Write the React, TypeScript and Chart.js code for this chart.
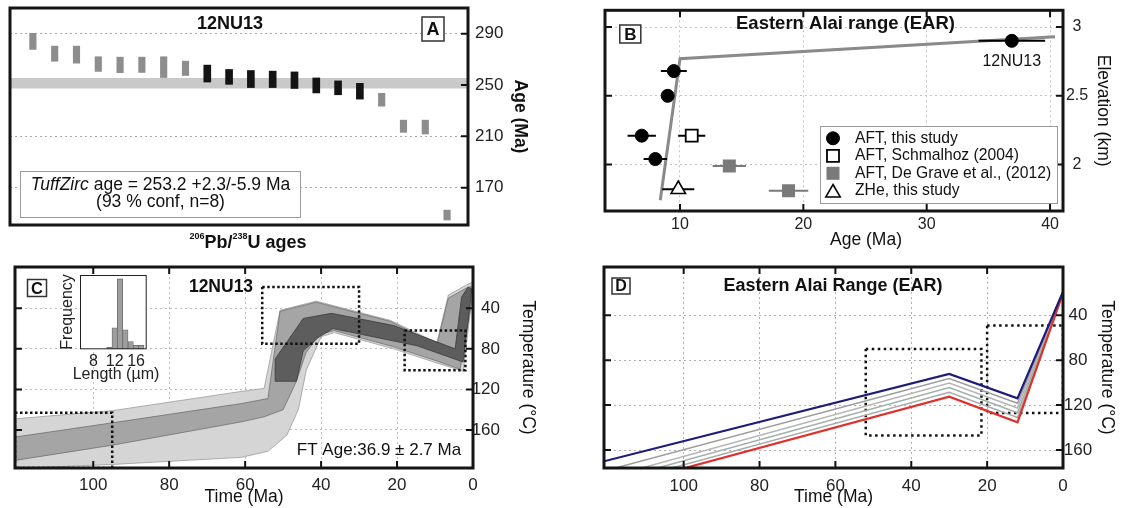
import React, { useEffect, useRef } from "react";
import { Chart, registerables } from "chart.js";

Chart.register(...registerables);

const FONT = "'Liberation Sans', Arial, Helvetica, sans-serif";
Chart.defaults.font.family = FONT;
Chart.defaults.color = "#222";

/* ================= Panel A : 206Pb/238U single-grain zircon ages ================= */
const sampleName = "12NU13";
const grainIndex = [1, 2, 3, 4, 5, 6, 7, 8, 9, 10, 11, 12, 13, 14, 15, 16, 17, 18, 19, 20];
const grainAgeMin = [277.7, 268.5, 267.0, 260.6, 259.6, 259.8, 255.8, 257.4, 252.3, 250.5, 248.0, 248.0, 247.3, 243.8, 242.4, 239.0, 233.5, 213.1, 211.8, 144.8];
const grainAgeMax = [290.3, 280.3, 280.3, 272.0, 271.7, 271.7, 272.0, 268.6, 265.5, 262.1, 261.3, 260.8, 260.2, 255.5, 253.2, 251.3, 243.5, 222.6, 222.6, 152.5];
const grainUsed = [0, 0, 0, 0, 0, 0, 0, 0, 1, 1, 1, 1, 1, 1, 1, 1, 0, 0, 0, 0];
const tuffZircAge = 253.2;
const tuffZircPlus = 2.3;
const tuffZircMinus = 5.9;
const tuffZircConf = 93;
const grainAxisRange = [-0.05, 20.96];
const ageAxisRangeA = [140.9, 310];
const ageTicksA = [170, 210, 250, 290];

/* ================= Panel B : age-elevation ================= */
const aftAge = [9.5, 9.0, 6.9, 8.0, 36.9];
const aftElev = [2.68, 2.5, 2.21, 2.04, 2.9];
const aftErr = [1.05, 0.45, 1.15, 0.95, 2.7];
const schAge = [10.95];
const schElev = [2.21];
const schErr = [1.1];
const dgAge = [14.0, 18.8];
const dgElev = [1.99, 1.81];
const dgErr = [1.35, 1.6];
const zheAge = [9.86];
const zheElev = [1.82];
const zheErr = [1.3];
const trendAge = [8.4, 10.0, 40.4];
const trendElev = [1.74, 2.77, 2.93];
const ageRangeB = [3.92, 41.05];
const elevRangeB = [1.662, 3.122];
const ageTicksB = [10, 20, 30, 40];
const elevTicksB = [2, 2.5, 3];

/* ================= Panel C : HeFTy model of 12NU13 ================= */
const timeTicks = [0, 20, 40, 60, 80, 100];
const tempTicks = [40, 80, 120, 160];
const timeRangeC = [0, 120.6];
const tempRangeC = [-0.7, 197.5];
const accTime = [120.6, 95, 61, 55, 50.8, 41.3, 21.7, 9.5, 6.5, 1.7, 0, 0, 2.6, 9.5, 20.9, 36.5, 40, 43.9, 46, 49, 54, 61, 95, 120.6];
const accTemp = [149, 141, 122, 119, 42, 33, 52, 74, 27, 17, 14, 22, 102, 94, 80, 64, 68, 101, 140, 165, 181, 187, 194, 198];
const goodTime = [120.6, 95, 61, 54, 50.8, 41.3, 21.7, 9.5, 6.5, 1.7, 0, 0, 3.4, 9.5, 20.9, 36.5, 40.5, 44, 46.5, 50, 55, 61, 95, 120.6];
const goodTemp = [167, 153, 134, 129, 43, 34, 53, 76, 30, 20, 18, 26, 100, 92, 78, 62, 66, 84, 112, 140, 147, 152, 175, 190];
const bestTime = [52.1, 52.1, 44.7, 37.3, 20.9, 4.7, 3, 1.3, 0.3, 2.6, 14.7, 36.9, 40.8, 44.7, 46.5];
const bestTemp = [112, 90, 50, 45, 57, 80, 29, 19, 21, 93, 77, 60, 69, 82, 112];
const cBoxTime = [[120.6, 95], [55.5, 30], [18, 2]];
const cBoxTemp = [[143, 197.5], [19, 75], [62, 101]];
const ftAge = 36.9;
const ftAgeErr = 2.7;
const lengthBin = [11, 12, 13, 14, 15, 16, 17];
const lengthCount = [1, 11, 36, 10, 4, 2, 2];
const lengthTicks = [8, 12, 16];
const lengthRange = [5.5, 18];
const countRange = [0, 38];

/* ================= Panel D : EAR forward model ================= */
const timeRangeD = [0, 121];
const tempRangeD = [-3, 176];
const dTime = [121, 30, 12, 0];
const dTop = [170, 92.3, 114, 19];
const dMid1 = [178.7, 96.3, 118.3, 19.3];
const dMid2 = [185.3, 100.4, 122.5, 19.7];
const dMid3 = [189.1, 104.4, 126.8, 20];
const dMid4 = [192.6, 108.5, 131, 20.2];
const dBottom = [195.5, 112.5, 135.3, 20.4];
const dBoxTime = [[52, 21.5], [20, 0]];
const dBoxTemp = [[70, 147], [49, 127]];

/* ================= helpers ================= */
type P = { x: number; y: number };
const pts = (xs: number[], ys: number[]): P[] => xs.map((x, i) => ({ x, y: ys[i] }));
const closed = (xs: number[], ys: number[]) => {
  const p = pts(xs, ys);
  return [...p, p[0]];
};
const rect = (t: number[], v: number[]) => [
  { x: t[0], y: v[0] }, { x: t[1], y: v[0] }, { x: t[1], y: v[1] }, { x: t[0], y: v[1] }, { x: t[0], y: v[0] },
];
const setTicks = (vals: number[]) => (s: any) => {
  s.ticks = vals.map((value) => ({ value }));
};
const fitW = (w: number) => (s: any) => {
  s.width = w;
  s.paddingTop = 0; s.paddingBottom = 0; s.paddingLeft = 0; s.paddingRight = 0;
};
const fitH = (h: number) => (s: any) => {
  s.height = h;
  s.paddingTop = 0; s.paddingBottom = 0; s.paddingLeft = 0; s.paddingRight = 0;
};
const label = (v: any) => String(v);

const baseOpts = (padding: any) => ({
  responsive: false,
  maintainAspectRatio: false,
  animation: false,
  devicePixelRatio: 1,
  events: [],
  layout: { padding },
  plugins: { legend: { display: false }, tooltip: { enabled: false } },
});

function txt(ctx: any, s: string, x: number, y: number, font: string, align: CanvasTextAlign = "center", color = "#111", rot = 0) {
  ctx.save();
  ctx.font = font;
  ctx.fillStyle = color;
  ctx.textAlign = align;
  ctx.textBaseline = "middle";
  ctx.translate(x, y);
  if (rot) ctx.rotate(rot);
  ctx.fillText(s, 0, 0);
  ctx.restore();
}

function rich(ctx: any, parts: [string, string, number][], cx: number, y: number, color = "#111") {
  ctx.save();
  ctx.textBaseline = "middle";
  ctx.textAlign = "left";
  ctx.fillStyle = color;
  let total = 0;
  for (const [s, f] of parts) { ctx.font = f; total += ctx.measureText(s).width; }
  let x = cx - total / 2;
  for (const [s, f, dy] of parts) { ctx.font = f; ctx.fillText(s, x, y + dy); x += ctx.measureText(s).width; }
  ctx.restore();
}

function boxedLetter(ctx: any, letter: string, cx: number, cy: number, w: number, h: number, size: number) {
  ctx.save();
  ctx.fillStyle = "#fff";
  ctx.fillRect(cx - w / 2, cy - h / 2, w, h);
  ctx.strokeStyle = "#333";
  ctx.lineWidth = 1.5;
  ctx.strokeRect(cx - w / 2, cy - h / 2, w, h);
  ctx.restore();
  txt(ctx, letter, cx, cy + 1, `bold ${size}px ${FONT}`);
}

function marker(ctx: any, style: string, x: number, y: number, r: number, fill: string, stroke: string, lw: number) {
  ctx.save();
  ctx.fillStyle = fill;
  ctx.strokeStyle = stroke;
  ctx.lineWidth = lw;
  ctx.beginPath();
  if (style === "circle") ctx.arc(x, y, r, 0, Math.PI * 2);
  else if (style === "rect") { const s = r * Math.SQRT1_2; ctx.rect(x - s, y - s, 2 * s, 2 * s); }
  else { ctx.moveTo(x, y - r); ctx.lineTo(x + 0.866 * r, y + 0.5 * r); ctx.lineTo(x - 0.866 * r, y + 0.5 * r); ctx.closePath(); }
  ctx.fill();
  if (lw > 0) ctx.stroke();
  ctx.restore();
}

function deco(sides: any, draw?: (ctx: any, chart: any) => void) {
  return {
    id: "deco",
    afterDraw(chart: any) {
      const { ctx, chartArea: a, scales } = chart;
      const L = 7;
      ctx.save();
      ctx.strokeStyle = "#111";
      ctx.lineWidth = 2;
      ctx.beginPath();
      const xs = scales.x, ys = scales.y;
      if (xs && (sides.top || sides.bottom)) {
        for (const t of xs.ticks) {
          const p = xs.getPixelForValue(t.value);
          if (sides.top) { ctx.moveTo(p, a.top); ctx.lineTo(p, a.top + L); }
          if (sides.bottom) { ctx.moveTo(p, a.bottom); ctx.lineTo(p, a.bottom - L); }
        }
      }
      if (ys && (sides.left || sides.right)) {
        for (const t of ys.ticks) {
          const p = ys.getPixelForValue(t.value);
          if (sides.left) { ctx.moveTo(a.left, p); ctx.lineTo(a.left + L, p); }
          if (sides.right) { ctx.moveTo(a.right, p); ctx.lineTo(a.right - L, p); }
        }
      }
      ctx.stroke();
      ctx.strokeStyle = "#151515";
      ctx.lineWidth = 3;
      ctx.strokeRect(a.left, a.top, a.right - a.left, a.bottom - a.top);
      ctx.restore();
      if (draw) draw(ctx, chart);
    },
  };
}

const gridStyle = (color = "#b5b5b5") => ({
  grid: { color, lineWidth: 1, drawTicks: false },
  border: { display: false, dash: [2, 3] },
});

/* ================= Panel builders ================= */
function buildA() {
  const ox = 0, oy = 0;
  const bars = (used: number) =>
    grainIndex.map((x, i) => ({ x, y: [grainAgeMin[i], grainAgeMax[i]] })).filter((_, i) => grainUsed[i] === used);
  const bandHi = tuffZircAge + tuffZircPlus;
  const bandLo = tuffZircAge - tuffZircMinus;
  const nUsed = grainUsed.filter((u) => u === 1).length;
  return {
    type: "bar",
    data: {
      datasets: [
        { type: "bar", label: "Grains used in TuffZirc age", data: bars(1), backgroundColor: "#141414", barThickness: 7, grouped: false, order: 1 },
        { type: "bar", label: "Rejected grains", data: bars(0), backgroundColor: "#8d8d8d", barThickness: 6.5, grouped: false, order: 2 },
        {
          type: "line", label: "TuffZirc age (upper)",
          data: [{ x: grainAxisRange[0], y: bandHi }, { x: grainAxisRange[1], y: bandHi }],
          fill: "+1", backgroundColor: "#c9c9c9", borderColor: "rgba(0,0,0,0)", borderWidth: 0, pointRadius: 0, order: 5,
        },
        {
          type: "line", label: "TuffZirc age (lower)",
          data: [{ x: grainAxisRange[0], y: bandLo }, { x: grainAxisRange[1], y: bandLo }],
          fill: false, borderColor: "rgba(0,0,0,0)", borderWidth: 0, pointRadius: 0, order: 6,
        },
      ],
    },
    options: {
      ...baseOpts({ left: 10, top: 8, right: 22, bottom: 27 }),
      scales: {
        x: { type: "linear", display: false, min: grainAxisRange[0], max: grainAxisRange[1], offset: false, grid: { display: false } },
        y: {
          type: "linear", position: "right", min: ageAxisRangeA[0], max: ageAxisRangeA[1], beginAtZero: false,
          afterBuildTicks: setTicks(ageTicksA), afterFit: fitW(70),
          ...gridStyle("#aaaaaa"),
          ticks: { font: { size: 17 }, color: "#222", padding: 7, crossAlign: "near", autoSkip: false, callback: label },
          title: { display: true, text: "Age (Ma)", color: "#111", font: { size: 17.5, weight: "bold" }, padding: { top: 7.5, bottom: 0 } },
        },
      },
    },
    plugins: [
      deco({ right: true }, (ctx: any) => {
        txt(ctx, sampleName, 230 - ox, 24 - oy, `bold 18px ${FONT}`);
        boxedLetter(ctx, "A", 433 - ox, 29 - oy, 22, 24, 18);
        ctx.save();
        ctx.fillStyle = "#fff";
        ctx.fillRect(20 - ox, 171 - oy, 280, 46);
        ctx.strokeStyle = "#9a9a9a";
        ctx.lineWidth = 1;
        ctx.strokeRect(20.5 - ox, 171.5 - oy, 280, 46);
        ctx.restore();
        rich(ctx, [
          ["TuffZirc", `italic 17.5px ${FONT}`, 0],
          [` age = ${tuffZircAge} +${tuffZircPlus}/-${tuffZircMinus} Ma`, `17.5px ${FONT}`, 0],
        ], 160.5 - ox, 185.5 - oy);
        txt(ctx, `(${tuffZircConf} % conf, n=${nUsed})`, 160.5 - ox, 202 - oy, `17.5px ${FONT}`);
        rich(ctx, [
          ["206", `bold 9px ${FONT}`, -6],
          ["Pb/", `bold 18px ${FONT}`, 0],
          ["238", `bold 9px ${FONT}`, -6],
          ["U ages", `bold 18px ${FONT}`, 0],
        ], 248 - ox, 243 - oy);
      }),
    ],
  };
}

function buildB() {
  const ox = 560, oy = 0;
  const errBars = (ages: number[], elevs: number[], errs: number[], color: string, name: string) =>
    ages.map((a, i) => ({
      type: "line", label: `${name} error ${i + 1}`,
      data: [{ x: a - errs[i], y: elevs[i] }, { x: a + errs[i], y: elevs[i] }],
      borderColor: color, borderWidth: 2, pointRadius: 0, fill: false, order: 5,
    }));
  return {
    type: "scatter",
    data: {
      datasets: [
        { label: "AFT, this study", data: pts(aftAge, aftElev), pointStyle: "circle", pointRadius: 6.5, backgroundColor: "#000", borderColor: "#000", borderWidth: 1, order: 0 },
        { label: "AFT, Schmalhoz (2004)", data: pts(schAge, schElev), pointStyle: "rect", pointRadius: 8.5, backgroundColor: "#fff", borderColor: "#000", borderWidth: 1.8, order: 0 },
        { label: "AFT, De Grave et al., (2012)", data: pts(dgAge, dgElev), pointStyle: "rect", pointRadius: 9.2, backgroundColor: "#7a7a7a", borderColor: "#7a7a7a", borderWidth: 0, order: 0 },
        { label: "ZHe, this study", data: pts(zheAge, zheElev), pointStyle: "triangle", pointRadius: 8.3, backgroundColor: "#fff", borderColor: "#000", borderWidth: 1.6, order: 0 },
        ...errBars(aftAge, aftElev, aftErr, "#000", "AFT"),
        ...errBars(schAge, schElev, schErr, "#000", "Schmalhoz"),
        ...errBars(dgAge, dgElev, dgErr, "#7a7a7a", "De Grave"),
        ...errBars(zheAge, zheElev, zheErr, "#000", "ZHe"),
        { type: "line", label: "Age-elevation trend", data: pts(trendAge, trendElev), borderColor: "#8a8a8a", borderWidth: 3, pointRadius: 0, fill: false, order: 9 },
      ],
    },
    options: {
      ...baseOpts({ left: 45, top: 8, right: 5.8, bottom: 0 }),
      scales: {
        x: {
          type: "linear", min: ageRangeB[0], max: ageRangeB[1],
          afterBuildTicks: setTicks(ageTicksB), afterFit: fitH(41),
          ...gridStyle("#c4c4c4"),
          ticks: { font: { size: 16 }, color: "#222", padding: 4.4, autoSkip: false, maxRotation: 0, minRotation: 0, callback: label },
          title: { display: false, text: "Age (Ma)" },
        },
        y: {
          type: "linear", position: "right", min: elevRangeB[0], max: elevRangeB[1],
          afterBuildTicks: setTicks(elevTicksB), afterFit: fitW(52.2),
          ...gridStyle("#c4c4c4"),
          ticks: { font: { size: 16 }, color: "#222", padding: 2.9, crossAlign: "center", autoSkip: false, callback: label },
          title: { display: true, text: "Elevation (km)", color: "#111", font: { size: 17.5 }, padding: { top: 1.7, bottom: 0 } },
        },
      },
    },
    plugins: [
      deco({ top: true, bottom: true, left: true, right: true }, (ctx: any, chart: any) => {
        txt(ctx, "Eastern Alai range (EAR)", 845.5 - ox, 24 - oy, `bold 18.5px ${FONT}`);
        boxedLetter(ctx, "B", 630.3 - ox, 34 - oy, 21, 18, 17);
        const xs = chart.scales.x, ys = chart.scales.y;
        txt(ctx, sampleName, xs.getPixelForValue(aftAge[4]), ys.getPixelForValue(aftElev[4]) + 21, `16px ${FONT}`);
        txt(ctx, "Age (Ma)", 866 - ox, 240 - oy, `17.5px ${FONT}`);
        ctx.save();
        ctx.fillStyle = "#fff";
        ctx.fillRect(820 - ox, 126 - oy, 237, 77);
        ctx.strokeStyle = "#9a9a9a";
        ctx.lineWidth = 1;
        ctx.strokeRect(820.5 - ox, 126.5 - oy, 237, 77);
        ctx.restore();
        const rows = chart.data.datasets.slice(0, 4);
        rows.forEach((d: any, i: number) => {
          const y = 138.3 + i * 17.5 - oy;
          const dy = d.pointStyle === "triangle" ? 2 : 0;
          marker(ctx, d.pointStyle, 833 - ox, y + dy, d.pointRadius, d.backgroundColor, d.borderColor, d.borderWidth);
          txt(ctx, d.label, 855 - ox, y, `15.7px ${FONT}`, "left");
        });
      }),
    ],
  };
}

function buildC() {
  const ox = 0, oy = 252;
  return {
    type: "scatter",
    data: {
      datasets: [
        ...cBoxTime.map((t, i) => ({
          type: "line", label: `Constraint box ${i + 1}`, data: rect(t, cBoxTemp[i]),
          borderColor: "#111", borderWidth: 2.5, borderDash: [2.5, 2.5], pointRadius: 0, fill: false, order: 0,
        })),
        { type: "line", label: "Best-fit paths", data: closed(bestTime, bestTemp), fill: "shape", backgroundColor: "#5d5d5d", borderColor: "#3a3a3a", borderWidth: 0.8, pointRadius: 0, order: 1 },
        { type: "line", label: "Good paths", data: closed(goodTime, goodTemp), fill: "shape", backgroundColor: "#a5a5a5", borderColor: "#707070", borderWidth: 0.8, pointRadius: 0, order: 2 },
        { type: "line", label: "Acceptable paths", data: closed(accTime, accTemp), fill: "shape", backgroundColor: "#d5d5d5", borderColor: "#9a9a9a", borderWidth: 0.8, pointRadius: 0, order: 3 },
      ],
    },
    options: {
      ...baseOpts({ left: 15, top: 15, right: 60, bottom: 0 }),
      scales: {
        x: {
          type: "linear", reverse: true, min: timeRangeC[0], max: timeRangeC[1],
          afterBuildTicks: setTicks(timeTicks), afterFit: fitH(40),
          ...gridStyle("#bdbdbd"),
          ticks: { font: { size: 17 }, color: "#222", padding: 6.8, autoSkip: false, maxRotation: 0, minRotation: 0, callback: label },
          title: { display: true, text: "Time (Ma)", color: "#111", font: { size: 17.5 }, padding: { top: 0, bottom: 0.5 } },
        },
        y: {
          type: "linear", position: "right", reverse: true, min: tempRangeC[0], max: tempRangeC[1],
          afterBuildTicks: setTicks(tempTicks), afterFit: fitW(27),
          ...gridStyle("#bdbdbd"),
          ticks: { font: { size: 17 }, color: "#222", padding: 0, crossAlign: "far", autoSkip: false, callback: label },
          title: { display: true, text: "Temperature (°C)", color: "#111", font: { size: 17.5 }, padding: { top: -38.5, bottom: 0 } },
        },
      },
    },
    plugins: [
      deco({ top: true, bottom: true, left: true, right: true }, (ctx: any) => {
        txt(ctx, sampleName, 221 - ox, 287 - oy, `bold 17.5px ${FONT}`);
        boxedLetter(ctx, "C", 37 - ox, 288 - oy, 19, 17, 16.5);
        txt(ctx, `FT Age:${ftAge} ± ${ftAgeErr} Ma`, 379 - ox, 450 - oy, `17px ${FONT}`);
      }),
    ],
  };
}

function buildInset() {
  const ox = 50, oy = 270;
  return {
    type: "bar",
    data: {
      datasets: [
        {
          label: "Track lengths", data: pts(lengthBin, lengthCount),
          backgroundColor: "#9e9e9e", borderColor: "#6a6a6a", borderWidth: 0.8, barPercentage: 1, categoryPercentage: 1,
        },
      ],
    },
    options: {
      ...baseOpts({ left: 0, top: 5, right: 13.3, bottom: 0 }),
      scales: {
        x: {
          type: "linear", min: lengthRange[0], max: lengthRange[1], offset: false,
          afterBuildTicks: setTicks(lengthTicks), afterFit: fitH(35.7),
          grid: { display: false, drawTicks: false, offset: false }, border: { display: false },
          ticks: { font: { size: 16 }, color: "#222", padding: 2.8, autoSkip: false, maxRotation: 0, minRotation: 0, callback: label },
          title: { display: false, text: "Length (µm)" },
        },
        y: {
          type: "linear", min: countRange[0], max: countRange[1], beginAtZero: true,
          afterFit: fitW(30),
          grid: { display: false, drawTicks: false }, border: { display: false },
          ticks: { display: false },
          title: { display: false, text: "Frequency" },
        },
      },
    },
    plugins: [
      {
        id: "insetFrame",
        beforeDatasetsDraw(chart: any) {
          const { ctx, chartArea: a } = chart;
          ctx.save();
          ctx.fillStyle = "#fff";
          ctx.fillRect(a.left, a.top, a.right - a.left, a.bottom - a.top);
          ctx.restore();
        },
        afterDraw(chart: any) {
          const { ctx, chartArea: a } = chart;
          ctx.save();
          ctx.strokeStyle = "#222";
          ctx.lineWidth = 1;
          ctx.strokeRect(a.left + 0.5, a.top + 0.5, a.right - a.left - 1, a.bottom - a.top - 1);
          ctx.restore();
          txt(ctx, "Length (µm)", 116 - ox, 375 - oy, `16px ${FONT}`, "center", "#222");
          txt(ctx, "Frequency", 68 - ox, 312 - oy, `16px ${FONT}`, "center", "#222", -Math.PI / 2);
        },
      },
    ],
  };
}

function buildD() {
  const ox = 560, oy = 252;
  const lines = [dTop, dMid1, dMid2, dMid3, dMid4, dBottom];
  const colors = ["#1d1d78", "#9d9d9d", "#b5b5b5", "#9fb0a6", "#aaaaaa", "#e0302c"];
  const widths = [2.2, 1.5, 1.5, 1.5, 1.5, 2.2];
  const names = ["Top of section", "Path 2", "Path 3", "Path 4", "Path 5", "Base of section"];
  return {
    type: "scatter",
    data: {
      datasets: [
        ...lines.map((v, i) => ({
          type: "line", label: names[i], data: pts(dTime, v),
          borderColor: colors[i], borderWidth: widths[i], pointRadius: 0, fill: false,
          order: i === 0 || i === lines.length - 1 ? 0 : 1,
        })),
        ...dBoxTime.map((t, i) => ({
          type: "line", label: `Constraint box ${i + 1}`, data: rect(t, dBoxTemp[i]),
          borderColor: "#111", borderWidth: 2.5, borderDash: [2.5, 3.5], pointRadius: 0, fill: false, order: 3,
        })),
      ],
    },
    options: {
      ...baseOpts({ left: 44, top: 15, right: 1.5, bottom: 0 }),
      scales: {
        x: {
          type: "linear", reverse: true, min: timeRangeD[0], max: timeRangeD[1],
          afterBuildTicks: setTicks(timeTicks), afterFit: fitH(40),
          ...gridStyle("#b0b0b0"),
          ticks: { font: { size: 17 }, color: "#222", padding: 7.8, autoSkip: false, maxRotation: 0, minRotation: 0, callback: label },
          title: { display: true, text: "Time (Ma)", color: "#111", font: { size: 17.5 }, padding: { top: 0, bottom: 0.5 } },
        },
        y: {
          type: "linear", position: "right", reverse: true, min: tempRangeD[0], max: tempRangeD[1],
          afterBuildTicks: setTicks(tempTicks), afterFit: fitW(56.5),
          ...gridStyle("#b0b0b0"),
          ticks: { font: { size: 17 }, color: "#222", padding: 0.8, crossAlign: "center", autoSkip: false, callback: label },
          title: { display: true, text: "Temperature (°C)", color: "#111", font: { size: 17.5 }, padding: { top: 2, bottom: 0 } },
        },
      },
    },
    plugins: [
      deco({ top: true, bottom: true, left: true, right: true }, (ctx: any) => {
        txt(ctx, "Eastern Alai Range (EAR)", 833 - ox, 286 - oy, `bold 18px ${FONT}`);
        boxedLetter(ctx, "D", 621 - ox, 286 - oy, 18, 16, 16);
      }),
    ],
  };
}

/* ================= React ================= */
function ChartPanel(props: { left: number; top: number; width: number; height: number; build: () => any }) {
  const { left, top, width, height, build } = props;
  const ref = useRef<HTMLCanvasElement | null>(null);
  useEffect(() => {
    if (!ref.current) return;
    const chart = new Chart(ref.current, build());
    return () => chart.destroy();
  }, [build]);
  return (
    <canvas
      ref={ref}
      width={width}
      height={height}
      style={{ position: "absolute", left, top, width, height, display: "block" }}
    />
  );
}

export default function App() {
  return (
    <div style={{ position: "fixed", left: 0, top: 0, width: 1121, height: 508, background: "#fff", overflow: "hidden" }}>
      <ChartPanel left={0} top={0} width={560} height={252} build={buildA} />
      <ChartPanel left={560} top={0} width={561} height={252} build={buildB} />
      <ChartPanel left={0} top={252} width={560} height={256} build={buildC} />
      <ChartPanel left={560} top={252} width={561} height={256} build={buildD} />
      <ChartPanel left={50} top={270} width={110} height={115} build={buildInset} />
    </div>
  );
}
